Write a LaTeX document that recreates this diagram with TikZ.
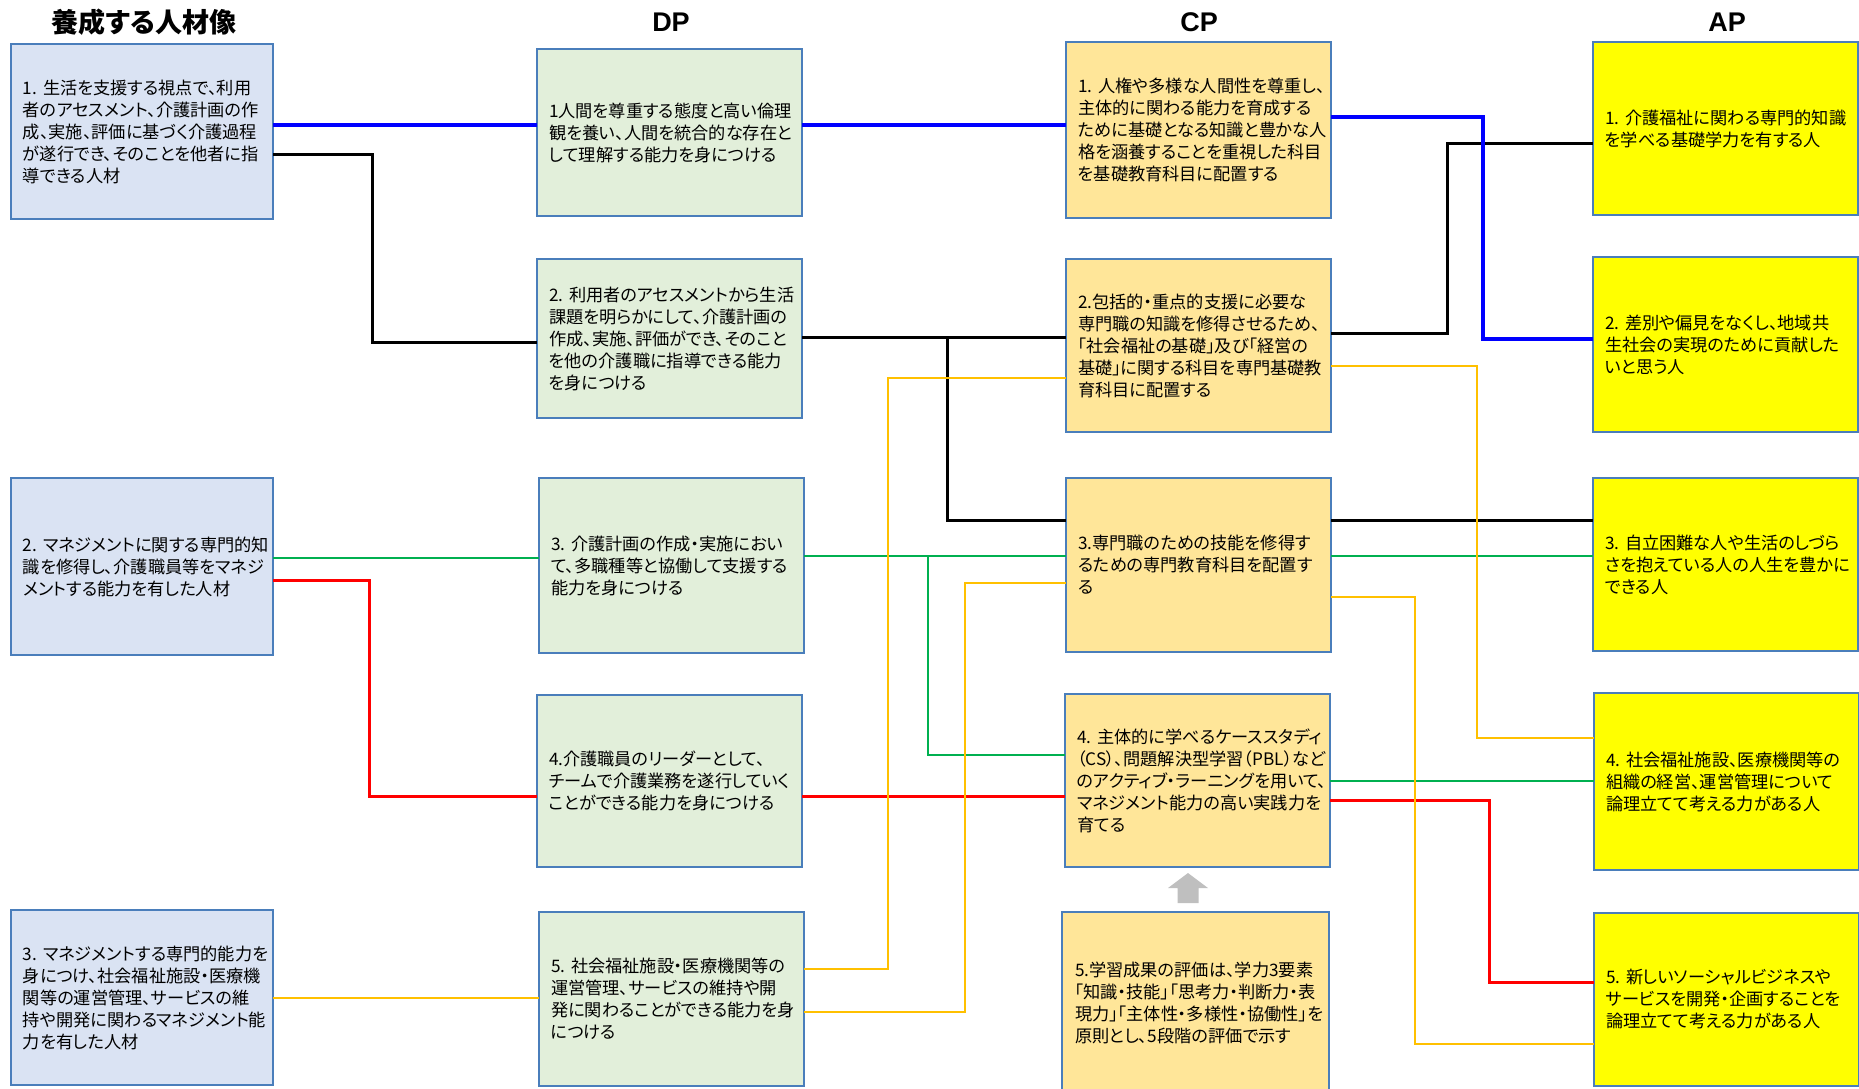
\documentclass[tikz,border=0pt]{standalone}
\usepackage{fontspec}
\newfontfamily\jp[RawFeature=+palt]{Noto Sans CJK JP}
\newfontfamily\hd{Liberation Sans}
\definecolor{lfill}{HTML}{DAE3F3}
\definecolor{dfill}{HTML}{E2EFDA}
\definecolor{cfill}{HTML}{FFE699}
\definecolor{afill}{HTML}{FFFF00}
\definecolor{boxline}{HTML}{4A7EBB}
\definecolor{lblue}{HTML}{0000FF}
\definecolor{lgreen}{HTML}{00B050}
\definecolor{lred}{HTML}{FF0000}
\definecolor{lorange}{HTML}{FFC000}
\definecolor{arrowgray}{HTML}{BFBFBF}
\begin{document}
\begin{tikzpicture}[x=0.5pt,y=-0.5pt,
  box/.style={draw=boxline, line width=0.8pt, outer sep=0pt, inner xsep=6pt,
    inner ysep=2pt, anchor=north west, align=left, text=black,
    font=\jp\fontsize{8.6}{11}\selectfont},
  lbox/.style={box, fill=lfill, minimum width=131pt, text width=119pt},
  dpbox/.style={box, fill=dfill, minimum width=132.5pt, text width=120.5pt},
  cpbox/.style={box, fill=cfill, minimum width=132.5pt, text width=120.5pt},
  apbox/.style={box, fill=afill, minimum width=132.5pt, text width=120.5pt},
  head/.style={font=\hd\bfseries\fontsize{13.5}{16}\selectfont, inner sep=0pt},
  cblack/.style={draw=black, line width=1.5pt},
  cblue/.style={draw=lblue, line width=1.7pt},
  cgreen/.style={draw=lgreen, line width=1.45pt},
  cred/.style={draw=lred, line width=1.5pt},
  corange/.style={draw=lorange, line width=1.35pt}]
\useasboundingbox (0,0) rectangle (1859,1088);
\clip (0,0) rectangle (1859,1088);

% column headings
\node[head, font=\jp\bfseries\fontsize{13.5}{16}\selectfont] (h0) at (144,22) {養成する人材像};
\node[head] (h1) at (671,22) {DP};
\node[head] (h2) at (1199,22) {CP};
\node[head] (h3) at (1727,22) {AP};

% graduate profiles
\node[lbox, minimum height=87.5pt] (l1) at (11,44) {1.~生活を支援する視点で、利用\\者のアセスメント、介護計画の作\\成、実施、評価に基づく介護過程\\が遂行でき、そのことを他者に指\\導できる人材};
\node[lbox, minimum height=88.5pt] (l2) at (11,478) {2.~マネジメントに関する専門的知\\識を修得し、介護職員等をマネジ\\メントする能力を有した人材};
\node[lbox, minimum height=87.5pt] (l3) at (11,910) {3.~マネジメントする専門的能力を\\身につけ、社会福祉施設・医療機\\関等の運営管理、サービスの維\\持や開発に関わるマネジメント能\\力を有した人材};

% diploma policy
\node[dpbox, minimum height=83.5pt] (dp1) at (537,49) {1人間を尊重する態度と高い倫理\\観を養い、人間を統合的な存在と\\して理解する能力を身につける};
\node[dpbox, minimum height=79.5pt] (dp2) at (537,259) {2.~利用者のアセスメントから生活\\課題を明らかにして、介護計画の\\作成、実施、評価ができ、そのこと\\を他の介護職に指導できる能力\\を身につける};
\node[dpbox, minimum height=87.5pt] (dp3) at (539,478) {3.~介護計画の作成・実施におい\\て、多職種等と協働して支援する\\能力を身につける};
\node[dpbox, minimum height=86pt] (dp4) at (537,695) {4.介護職員のリーダーとして、\\チームで介護業務を遂行していく\\ことができる能力を身につける};
\node[dpbox, minimum height=87pt] (dp5) at (539,912) {5.~社会福祉施設・医療機関等の\\運営管理、サービスの維持や開\\発に関わることができる能力を身\\につける};

% curriculum policy
\node[cpbox, minimum height=88pt] (cp1) at (1066,42) {1.~人権や多様な人間性を尊重し、\\主体的に関わる能力を育成する\\ために基礎となる知識と豊かな人\\格を涵養することを重視した科目\\を基礎教育科目に配置する};
\node[cpbox, minimum height=86.5pt] (cp2) at (1066,259) {2.包括的・重点的支援に必要な\\専門職の知識を修得させるため、\\「社会福祉の基礎」及び「経営の\\基礎」に関する科目を専門基礎教\\育科目に配置する};
\node[cpbox, minimum height=87pt] (cp3) at (1066,478) {3.専門職のための技能を修得す\\るための専門教育科目を配置す\\る};
\node[cpbox, minimum height=86.5pt] (cp4) at (1065,694) {4.~主体的に学べるケーススタディ\\（CS）、問題解決型学習（PBL）など\\のアクティブ・ラーニングを用いて、\\マネジメント能力の高い実践力を\\育てる};
\node[cpbox, minimum height=91pt, minimum width=133.5pt] (cp5) at (1062,912) {5.学習成果の評価は、学力3要素\\「知識・技能」「思考力・判断力・表\\現力」「主体性・多様性・協働性」を\\原則とし、5段階の評価で示す};

% admission policy
\node[apbox, minimum height=86.5pt] (ap1) at (1593,42) {1.~介護福祉に関わる専門的知識\\を学べる基礎学力を有する人};
\node[apbox, minimum height=87.5pt, minimum width=131pt] (ap2) at (1593,257) {2.~差別や偏見をなくし、地域共\\生社会の実現のために貢献した\\いと思う人};
\node[apbox, minimum height=86.5pt] (ap3) at (1593,478) {3.~自立困難な人や生活のしづら\\さを抱えている人の人生を豊かに\\できる人};
\node[apbox, minimum height=88.5pt] (ap4) at (1594,693) {4.~社会福祉施設、医療機関等の\\組織の経営、運営管理について\\論理立てて考える力がある人};
\node[apbox, minimum height=86.5pt] (ap5) at (1594,913) {5.~新しいソーシャルビジネスや\\サービスを開発・企画することを\\論理立てて考える力がある人};

% evaluation feeds the active-learning policy
\fill[arrowgray] (1177.5,903) -- (1177.5,888) -- (1168,888) -- (1188,873)
  -- (1208,888) -- (1198.5,888) -- (1198.5,903) -- cycle;

% black links
\draw[cblack] (l1.east |- 0,154) -| (372,342) -- (dp2.west |- 0,342);
\draw[cblack] (dp2.east |- 0,337) -- (cp2.west |- 0,337);
\draw[cblack] (dp2.east |- 0,337) -| (947,520) -- (cp3.west |- 0,520);
\draw[cblack] (cp3.east |- 0,520) -- (ap3.west |- 0,520);
\draw[cblack] (cp2.east |- 0,333) -| (1447,143) -- (ap1.west |- 0,143);

% blue links
\draw[cblue] (l1.east |- 0,125) -- (dp1.west |- 0,125);
\draw[cblue] (dp1.east |- 0,125) -- (cp1.west |- 0,125);
\draw[cblue] (cp1.east |- 0,117) -| (1483,339) -- (ap2.west |- 0,339);

% green links
\draw[cgreen] (l2.east |- 0,558) -- (dp3.west |- 0,558);
\draw[cgreen] (dp3.east |- 0,556) -- (cp3.west |- 0,556);
\draw[cgreen] (dp3.east |- 0,556) -| (928,755) -- (cp4.west |- 0,755);
\draw[cgreen] (cp3.east |- 0,556) -- (ap3.west |- 0,556);
\draw[cgreen] (cp4.east |- 0,781) -- (ap4.west |- 0,781);

% red links
\draw[cred] (l2.east |- 0,580) -| (369,796) -- (dp4.west |- 0,796);
\draw[cred] (dp4.east |- 0,796) -- (cp4.west |- 0,796);
\draw[cred] (cp4.east |- 0,800) -| (1489,982) -- (ap5.west |- 0,982);

% orange links
\draw[corange] (l3.east |- 0,998) -- (dp5.west |- 0,998);
\draw[corange] (dp5.east |- 0,969) -| (888,378) -- (cp2.west |- 0,378);
\draw[corange] (dp5.east |- 0,1012) -| (965,583) -- (cp3.west |- 0,583);
\draw[corange] (cp2.east |- 0,366) -| (1477,738) -- (ap4.west |- 0,738);
\draw[corange] (cp3.east |- 0,597) -| (1415,1044) -- (ap5.west |- 0,1044);
\end{tikzpicture}
\end{document}
